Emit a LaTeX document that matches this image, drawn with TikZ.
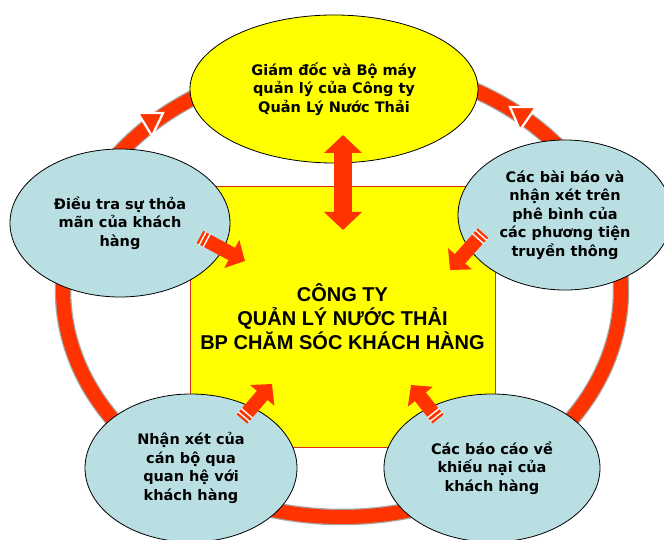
\documentclass[tikz,border=0pt]{standalone}
\usepackage{fontspec}
\newfontfamily\bubblefont{DejaVu Sans}
\newfontfamily\titlefont{Liberation Sans}
\usetikzlibrary{arrows.meta,calc,shapes.geometric}

\definecolor{ringred}{HTML}{FF3300}
\definecolor{boxyellow}{HTML}{FFFF00}
\definecolor{bubbleblue}{HTML}{BADFE3}
\definecolor{edgered}{HTML}{D83010}

% two white bands across the tail of a block arrow running from #1 to #2
\newcommand\tailbands[2]{%
  \foreach \d in {3,7.5}{%
    \draw[white, line width=1.4]
      ($(#1)!\d pt!(#2)!7.6pt!90:(#2)$) -- ($(#1)!\d pt!(#2)!7.6pt!-90:(#2)$);}}

\begin{document}
\begin{tikzpicture}[x=1pt,y=-1pt,
  bubble/.style={ellipse, draw=black, line width=0.8pt, fill=bubbleblue,
    inner sep=0pt, align=center,
    font=\bubblefont\bfseries\fontsize{14.5}{18.5}\selectfont},
  corebox/.style={rectangle, draw=edgered, line width=0.8pt, fill=boxyellow,
    inner sep=0pt, align=center,
    font=\titlefont\bfseries\fontsize{20}{24}\selectfont},
  inarrow/.style={draw=ringred, line width=14,
    -{Triangle[width=31pt,length=15pt]}},
  duplex/.style={draw=ringred, line width=18,
    {Triangle[width=37pt,length=18pt]}-{Triangle[width=37pt,length=18pt]}},
  ringband/.style={draw=ringred, line width=14},
  ringshade/.style={draw=gray!70, line width=16.5},
  headmark/.style={fill=ringred, draw=white, line width=2.2, line join=miter}
]
\useasboundingbox (0,0) rectangle (664,540);
\fill[white] (0,0) rectangle (664,540);

% the circulating ring behind all blocks
\draw[ringshade] (342,290) ellipse [x radius=279, y radius=227];
\draw[ringband] (342,290) ellipse [x radius=279, y radius=227];

% central department block
\node[corebox, minimum width=305, minimum height=261] (core) at (342.5,316.5)
  {CÔNG TY\\QUẢN LÝ NƯỚC THẢI\\BP CHĂM SÓC KHÁCH HÀNG};

% information sources around it
\node[bubble, minimum width=220, minimum height=148] (survey) at (120,223)
  {Điều tra sự thỏa\\mãn của khách\\hàng};
\node[bubble, minimum width=214, minimum height=150] (media) at (565,215)
  {Các bài báo và\\nhận xét trên\\phê bình của\\các phương tiện\\truyền thông};
\node[bubble, minimum width=212, minimum height=148] (staff) at (191,468)
  {Nhận xét của\\cán bộ qua\\quan hệ với\\khách hàng};
\node[bubble, minimum width=216, minimum height=148] (complaint) at (492,468)
  {Các báo cáo về\\khiếu nại của\\khách hàng};

% management on top
\node[bubble, fill=boxyellow, minimum width=288, minimum height=148] (top) at (334,89)
  {Giám đốc và Bộ máy\\quản lý của Công ty\\Quản Lý Nước Thải};

% arrow heads on the upper ring segments
\path[headmark] (138,113) -- (163,113) -- (152,136) -- cycle;
\path[headmark] (510,107) -- (536,107) -- (520,130) -- cycle;

% two-way link between management and the department
\coordinate (upTip) at (343,135);
\coordinate (downTip) at (343,230);
\draw[duplex] (upTip) -- (downTip);

% inputs flowing into the department
\coordinate (sA) at (200,237);  \coordinate (eA) at (245,261);
\coordinate (sB) at (483,233);  \coordinate (eB) at (450,270);
\coordinate (sC) at (242,419);  \coordinate (eC) at (272,384);
\coordinate (sD) at (438,419);  \coordinate (eD) at (411,385);
\draw[inarrow] (sA) -- (eA); \tailbands{sA}{eA}
\draw[inarrow] (sB) -- (eB); \tailbands{sB}{eB}
\draw[inarrow] (sC) -- (eC); \tailbands{sC}{eC}
\draw[inarrow] (sD) -- (eD); \tailbands{sD}{eD}
\end{tikzpicture}
\end{document}
